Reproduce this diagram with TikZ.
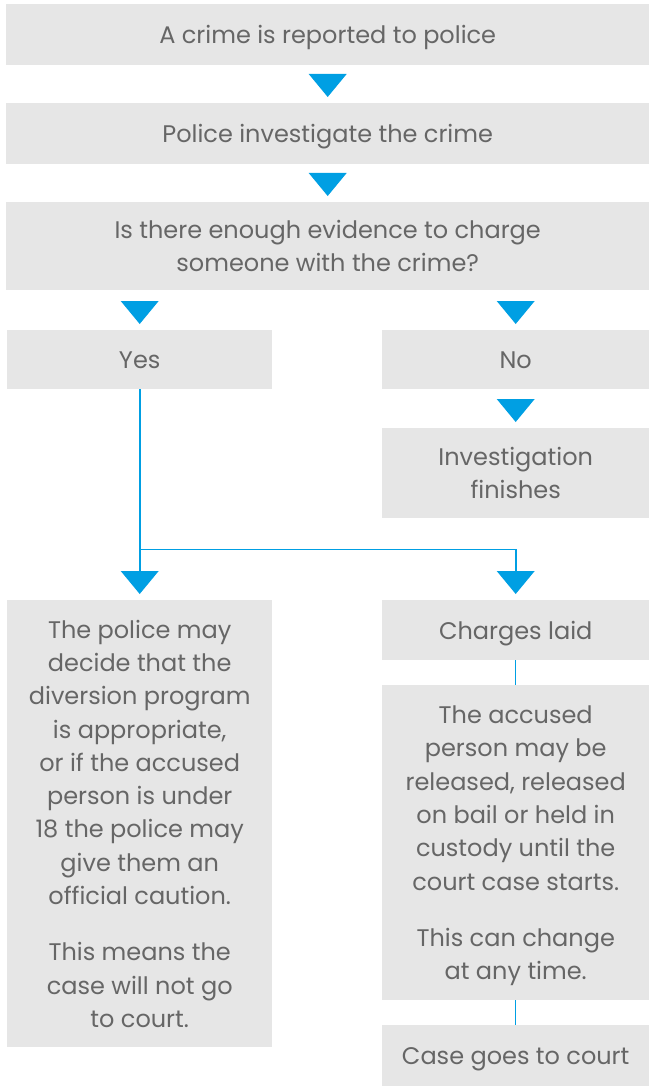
\documentclass[tikz,border=0pt]{standalone}
\usepackage{fontspec}
\setmainfont{Poppins}
\usetikzlibrary{calc}
\definecolor{boxgray}{HTML}{E6E6E6}
\definecolor{textgray}{HTML}{666666}
\definecolor{arrowblue}{HTML}{009FE3}
\tikzset{
  flowbox/.style={fill=boxgray, text=textgray, anchor=north west, inner sep=0pt,
    align=center, text depth=0pt, font=\fontsize{24}{33.3}\selectfont},
  blueline/.style={draw=arrowblue, line width=1.6pt},
  thinline/.style={draw=arrowblue, line width=1pt},
}
\newcommand{\downtri}[1]{\fill[arrowblue] ($(#1)+(-19,-29)$) -- ++(38,0) -- ++(-19,23) -- cycle;}
\begin{document}
\begin{tikzpicture}[x=1pt,y=-1pt]
\useasboundingbox (0,0) rectangle (649,1086);
\node[flowbox, minimum width=643pt, minimum height=61pt] (crime) at (6,4) {A crime is reported to police};
\node[flowbox, minimum width=643pt, minimum height=61pt] (invest) at (6,103) {Police investigate the crime};
\node[flowbox, minimum width=643pt, minimum height=88pt] (evid) at (6,202) {Is there enough evidence to charge\\someone with the crime?};
\node[flowbox, minimum width=265pt, minimum height=59pt] (yes) at (7,330) {Yes};
\node[flowbox, minimum width=267pt, minimum height=59pt] (no) at (382,330) {No};
\node[flowbox, minimum width=267pt, minimum height=90pt] (fin) at (382,428) {Investigation\\finishes};
\node[flowbox, minimum width=265pt, minimum height=447pt] (div) at (7,600) {The police may\\decide that the\\diversion program\\is appropriate,\\or if the accused\\person is under\\18 the police may\\give them an\\official caution.\\[23pt]This means the\\case will not go\\to court.};
\node[flowbox, minimum width=267pt, minimum height=60pt] (charges) at (382,600) {Charges laid};
\node[flowbox, minimum width=267pt, minimum height=315pt] (accused) at (382,685) {The accused\\person may be\\released, released\\on bail or held in\\custody until the\\court case starts.\\[23pt]This can change\\at any time.};
\node[flowbox, minimum width=267pt, minimum height=61pt] (court) at (382,1025) {Case goes to court};
% triangles
\downtri{invest.north}
\downtri{evid.north}
\downtri{yes.north}
\downtri{no.north}
\downtri{fin.north}
\downtri{div.north}
\downtri{charges.north}
% connectors
\coordinate (split) at ($(yes.south)+(0,160)$);
\draw[blueline] (yes.south) -- ($(div.north)+(0,-29)$);
\draw[blueline] (split) -| ($(charges.north)+(0,-29)$);
\draw[thinline] (charges.south) -- (accused.north);
\draw[thinline] (accused.south) -- (court.north);
\end{tikzpicture}
\end{document}
